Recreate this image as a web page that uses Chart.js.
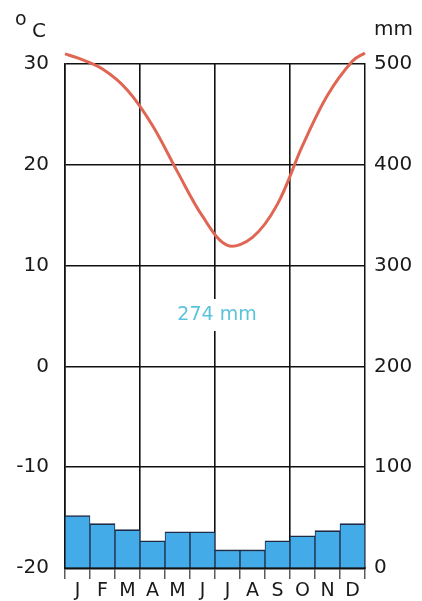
<!DOCTYPE html>
<html>
<head>
<meta charset="utf-8">
<script src="https://cdn.jsdelivr.net/npm/chart.js@4/dist/chart.umd.min.js"></script>
<style>
html,body{margin:0;padding:0;background:#fff;}
#wrap{width:422px;height:601px;position:relative;}
</style>
</head>
<body>
<div id="wrap"><canvas id="c"></canvas></div>
<script>
// ---- data ----
const months = ['J','F','M','A','M','J','J','A','S','O','N','D'];
const precipMm = [52, 44, 38, 27, 36, 36, 18, 18, 27, 32, 37, 44];
const tempPos = [0, 0.5, 1.5, 2.5, 3.5, 4.5, 5.5, 6.5, 7.5, 8.5, 9.5, 10.5, 11.5, 12];
const tempC   = [31.0, 30.6, 29.5, 27.4, 23.9, 19.3, 14.9, 12.0, 12.8, 16.1, 21.9, 26.9, 30.3, 31.1];
const tempTicks = [-20, -10, 0, 10, 20, 30];
const mmTicks = [0, 100, 200, 300, 400, 500];
const totalLabel = '274 mm';
const leftUnit = 'C';
const rightUnit = 'mm';

const FONT = "'DejaVu Sans', sans-serif";
const ink = '#1a1a1a';

const textPlugin = {
  id: 'texts',
  afterDatasetsDraw(chart) {
    const {ctx, chartArea, scales} = chart;
    ctx.save();
    const cx = (chartArea.left + chartArea.right) / 2 + 2;
    const cy = scales.y.getPixelForValue(5) - 1;
    ctx.font = "19px " + FONT;
    const w = ctx.measureText(totalLabel).width;
    ctx.fillStyle = '#fff';
    ctx.fillRect(cx - w / 2 - 3, cy - 16, w + 6, 32);
    ctx.fillStyle = '#5cc3dc';
    ctx.textAlign = 'center';
    ctx.textBaseline = 'middle';
    ctx.fillText(totalLabel, cx, cy);
    ctx.restore();
  },
  afterDraw(chart) {
    const {ctx} = chart;
    ctx.save();
    ctx.fillStyle = ink;
    ctx.textBaseline = 'alphabetic';
    ctx.textAlign = 'left';
    ctx.font = "19px " + FONT;
    ctx.fillText('o', 15, 25);
    ctx.font = "20px " + FONT;
    ctx.fillText(leftUnit, 32, 37);
    ctx.font = "20px " + FONT;
    ctx.fillText(rightUnit, 374, 35);
    ctx.restore();
  }
};

new Chart(document.getElementById('c'), {
  data: {
    labels: months,
    datasets: [
      {
        type: 'line',
        data: tempPos.map((p, i) => ({x: p, y: tempC[i]})),
        xAxisID: 'xt',
        yAxisID: 'y',
        borderColor: '#e06654',
        borderWidth: 3,
        pointRadius: 0,
        tension: 0.35,
        clip: false,
        order: 0
      },
      {
        type: 'bar',
        data: precipMm,
        xAxisID: 'x',
        yAxisID: 'yr',
        backgroundColor: '#43ace8',
        borderColor: '#1f2a44',
        borderWidth: {top: 1.6, left: 1, right: 1, bottom: 0},
        borderSkipped: 'bottom',
        barPercentage: 1,
        categoryPercentage: 1,
        grouped: false,
        order: 1
      }
    ]
  },
  options: {
    responsive: true,
    maintainAspectRatio: false,
    animation: false,
    devicePixelRatio: 1,
    layout: {padding: {top: 64, left: 0, right: 0, bottom: 0}},
    plugins: {legend: {display: false}, tooltip: {enabled: false}},
    scales: {
      x: {
        type: 'category',
        position: 'bottom',
        offset: true,
        grid: {
          offset: true,
          color: c => (c.index % 3 === 0 ? '#111' : 'rgba(0,0,0,0)'),
          lineWidth: 1.6,
          tickColor: '#333',
          tickWidth: 1.2,
          tickLength: 11,
          drawTicks: true
        },
        border: {color: '#111', width: 2.5},
        ticks: {font: {family: FONT, size: 19}, color: ink, padding: 1, maxRotation: 0, autoSkip: false},
        afterFit: s => { s.height = 33; }
      },
      xt: {type: 'linear', min: 0, max: 12, display: false},
      y: {
        position: 'left',
        min: -20, max: 30,
        afterBuildTicks: s => { s.ticks = tempTicks.map(v => ({value: v})); },
        grid: {color: '#111', lineWidth: 1.5, drawTicks: false},
        border: {color: '#111', width: 1.5},
        ticks: {font: {family: FONT, size: 20}, color: ink, padding: 16},
        afterFit: s => { s.width = 65; }
      },
      yr: {
        position: 'right',
        min: 0, max: 500,
        afterBuildTicks: s => { s.ticks = mmTicks.map(v => ({value: v})); },
        grid: {drawOnChartArea: false, drawTicks: false},
        border: {color: '#111', width: 1.5},
        ticks: {font: {family: FONT, size: 20}, color: ink, padding: 9},
        afterFit: s => { s.width = 57; }
      }
    }
  },
  plugins: [textPlugin]
});
</script>
</body>
</html>
